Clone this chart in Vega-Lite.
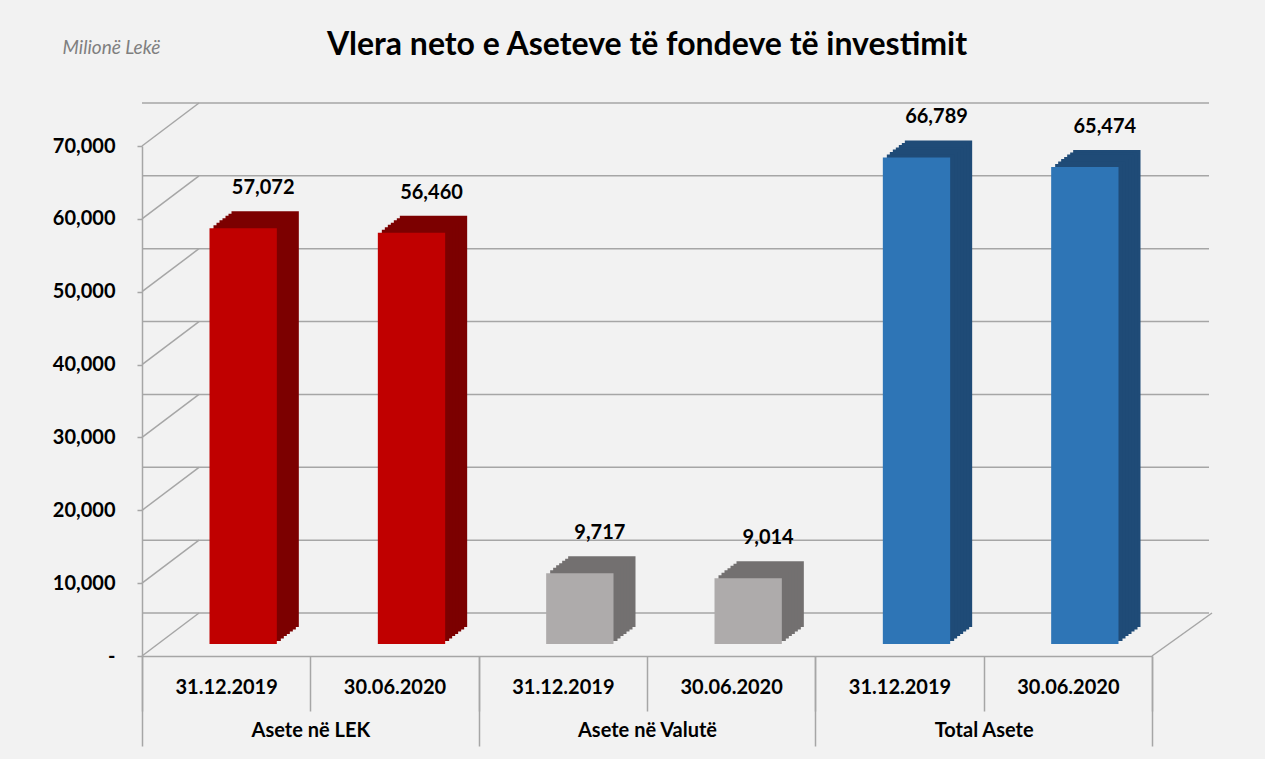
{
  "$schema": "https://vega.github.io/schema/vega-lite/v6.json",
  "width": 1010,
  "height": 510,
  "autosize": {"type": "none"},
  "padding": {"left": 142, "top": 146, "right": 113, "bottom": 103},
  "background": "#f2f2f2",
  "config": {
    "view": {"stroke": null},
    "font": "Lato",
    "axis": {"title": null, "grid": false, "domainColor": "#a6a6a6", "domainWidth": 1.5, "tickColor": "#a6a6a6", "tickWidth": 1.5, "labelFont": "Lato", "labelFontSize": 20, "labelFontWeight": "bold", "labelColor": "#000000"}
  },
  "title": {
    "text": "Vlera neto e Aseteve të fondeve të investimit",
    "font": "Lato",
    "fontSize": 32,
    "fontWeight": "bold",
    "color": "#000000",
    "anchor": "middle",
    "frame": "group",
    "offset": -24
  },
  "datasets": {
    "bars": [
      {"key": "Asete në LEK|31.12.2019", "group": "Asete në LEK", "date": "31.12.2019", "value": 57072},
      {"key": "Asete në LEK|30.06.2020", "group": "Asete në LEK", "date": "30.06.2020", "value": 56460},
      {"key": "Asete në Valutë|31.12.2019", "group": "Asete në Valutë", "date": "31.12.2019", "value": 9717},
      {"key": "Asete në Valutë|30.06.2020", "group": "Asete në Valutë", "date": "30.06.2020", "value": 9014},
      {"key": "Total Asete|31.12.2019", "group": "Total Asete", "date": "31.12.2019", "value": 66789},
      {"key": "Total Asete|30.06.2020", "group": "Total Asete", "date": "30.06.2020", "value": 65474}
    ],
    "grid": [{"v": 0}, {"v": 10000}, {"v": 20000}, {"v": 30000}, {"v": 40000}, {"v": 50000}, {"v": 60000}, {"v": 70000}],
    "groups": [{"group": "Asete në LEK"}, {"group": "Asete në Valutë"}, {"group": "Total Asete"}]
  },
  "layer": [
    {
      "layer": [
        {
          "data": {"name": "grid"},
          "mark": {"type": "rule", "color": "#a6a6a6", "strokeWidth": 1.5, "xOffset": 57, "x2Offset": 60, "yOffset": -43},
          "encoding": {
            "y": {"field": "v", "type": "quantitative", "scale": {"domain": [0, 70000], "nice": false}}
          }
        },
        {
          "data": {"name": "grid"},
          "mark": {"type": "rule", "color": "#a6a6a6", "strokeWidth": 1.5, "x2Offset": 57, "y2Offset": -43},
          "encoding": {
            "x": {"datum": "Asete në LEK|31.12.2019", "bandPosition": 0, "type": "nominal"},
            "x2": {"datum": "Asete në LEK|31.12.2019", "bandPosition": 0},
            "y": {"field": "v", "type": "quantitative"},
            "y2": {"field": "v"}
          }
        },
        {
          "data": {"name": "grid"},
          "transform": [{"filter": "datum.v == 0"}],
          "mark": {"type": "rule", "color": "#a6a6a6", "strokeWidth": 1.5, "x2Offset": 60, "y2Offset": -43},
          "encoding": {
            "x": {"datum": "Total Asete|30.06.2020", "bandPosition": 1, "type": "nominal"},
            "x2": {"datum": "Total Asete|30.06.2020", "bandPosition": 1},
            "y": {"field": "v", "type": "quantitative"},
            "y2": {"field": "v"}
          }
        },
        {
          "data": {"name": "bars"},
          "mark": {"type": "bar", "width": {"band": 0.4}, "xOffset": 39, "yOffset": -29, "y2Offset": -29},
          "encoding": {
            "x": {"field": "key", "type": "nominal", "sort": null},
            "y": {"field": "value", "type": "quantitative"},
            "color": {"field": "group", "type": "nominal", "legend": null, "scale": {"domain": ["Asete në LEK", "Asete në Valutë", "Total Asete"], "range": ["#7c0000", "#737070", "#1f4b77"]}}
          }
        },
        {
          "data": {"name": "bars"},
          "mark": {"type": "bar", "width": {"band": 0.4}, "xOffset": 36, "yOffset": -26.5, "y2Offset": -26.5},
          "encoding": {
            "x": {"field": "key", "type": "nominal", "sort": null},
            "y": {"field": "value", "type": "quantitative"},
            "color": {"field": "group", "type": "nominal", "legend": null, "scale": {"domain": ["Asete në LEK", "Asete në Valutë", "Total Asete"], "range": ["#7c0000", "#737070", "#1f4b77"]}}
          }
        },
        {
          "data": {"name": "bars"},
          "mark": {"type": "bar", "width": {"band": 0.4}, "xOffset": 33, "yOffset": -24.5, "y2Offset": -24.5},
          "encoding": {
            "x": {"field": "key", "type": "nominal", "sort": null},
            "y": {"field": "value", "type": "quantitative"},
            "color": {"field": "group", "type": "nominal", "legend": null, "scale": {"domain": ["Asete në LEK", "Asete në Valutë", "Total Asete"], "range": ["#7c0000", "#737070", "#1f4b77"]}}
          }
        },
        {
          "data": {"name": "bars"},
          "mark": {"type": "bar", "width": {"band": 0.4}, "xOffset": 30, "yOffset": -22, "y2Offset": -22},
          "encoding": {
            "x": {"field": "key", "type": "nominal", "sort": null},
            "y": {"field": "value", "type": "quantitative"},
            "color": {"field": "group", "type": "nominal", "legend": null, "scale": {"domain": ["Asete në LEK", "Asete në Valutë", "Total Asete"], "range": ["#7c0000", "#737070", "#1f4b77"]}}
          }
        },
        {
          "data": {"name": "bars"},
          "mark": {"type": "bar", "width": {"band": 0.4}, "xOffset": 27, "yOffset": -20, "y2Offset": -20},
          "encoding": {
            "x": {"field": "key", "type": "nominal", "sort": null},
            "y": {"field": "value", "type": "quantitative"},
            "color": {"field": "group", "type": "nominal", "legend": null, "scale": {"domain": ["Asete në LEK", "Asete në Valutë", "Total Asete"], "range": ["#7c0000", "#737070", "#1f4b77"]}}
          }
        },
        {
          "data": {"name": "bars"},
          "mark": {"type": "bar", "width": {"band": 0.4}, "xOffset": 24, "yOffset": -17.5, "y2Offset": -17.5},
          "encoding": {
            "x": {"field": "key", "type": "nominal", "sort": null},
            "y": {"field": "value", "type": "quantitative"},
            "color": {"field": "group", "type": "nominal", "legend": null, "scale": {"domain": ["Asete në LEK", "Asete në Valutë", "Total Asete"], "range": ["#7c0000", "#737070", "#1f4b77"]}}
          }
        },
        {
          "data": {"name": "bars"},
          "mark": {"type": "bar", "width": {"band": 0.4}, "xOffset": 21, "yOffset": -15, "y2Offset": -15},
          "encoding": {
            "x": {"field": "key", "type": "nominal", "sort": null},
            "y": {"field": "value", "type": "quantitative"},
            "color": {"field": "group", "type": "nominal", "legend": null, "scale": {"domain": ["Asete në LEK", "Asete në Valutë", "Total Asete"], "range": ["#7c0000", "#737070", "#1f4b77"]}}
          }
        },
        {
          "data": {"name": "bars"},
          "mark": {"type": "bar", "width": {"band": 0.4}, "xOffset": 17, "yOffset": -12, "y2Offset": -12},
          "encoding": {
            "x": {
              "field": "key", "type": "nominal", "sort": null,
              "scale": {"domain": ["Asete në LEK|31.12.2019", "Asete në LEK|30.06.2020", "Asete në Valutë|31.12.2019", "Asete në Valutë|30.06.2020", "Total Asete|31.12.2019", "Total Asete|30.06.2020"], "paddingInner": 0, "paddingOuter": 0},
              "axis": {
                "orient": "bottom", "title": null, "tickBand": "extent", "bandPosition": 0.5, "tickSize": 55,
                "labelExpr": "split(datum.label, '|')[1]", "labelAngle": 0, "labelAlign": "center", "labelBaseline": "middle", "labelPadding": -24
              }
            },
            "y": {
              "field": "value", "type": "quantitative", "scale": {"domain": [0, 70000], "nice": false},
              "axis": {
                "values": [0, 10000, 20000, 30000, 40000, 50000, 60000, 70000],
                "tickSize": 5,
                "labelExpr": "datum.value == 0 ? '-' : format(datum.value, ',')",
                "labelPadding": 22,
                "title": "Milionë Lekë", "titleAngle": 0, "titleAlign": "left", "titleBaseline": "middle", "titleX": -80, "titleY": -99,
                "titleFont": "Lato", "titleFontSize": 19, "titleFontStyle": "italic", "titleFontWeight": "normal", "titleColor": "#7f7f7f"
              }
            },
            "color": {"field": "group", "type": "nominal", "legend": null, "scale": {"domain": ["Asete në LEK", "Asete në Valutë", "Total Asete"], "range": ["#c00000", "#aeabab", "#2e75b6"]}}
          }
        },
        {
          "data": {"name": "bars"},
          "mark": {"type": "text", "font": "Lato", "fontSize": 20, "fontWeight": "bold", "color": "#000000", "baseline": "bottom", "align": "center", "xOffset": 37, "yOffset": -42},
          "encoding": {
            "x": {"field": "key", "type": "nominal", "sort": null},
            "y": {"field": "value", "type": "quantitative"},
            "text": {"field": "value", "type": "quantitative", "format": ","}
          }
        }
      ],
      "resolve": {"scale": {"color": "independent"}}
    },
    {
      "data": {"name": "groups"},
      "mark": {"type": "point", "opacity": 0},
      "encoding": {
        "x": {
          "field": "group", "type": "nominal", "sort": null,
          "scale": {"domain": ["Asete në LEK", "Asete në Valutë", "Total Asete"], "paddingInner": 0, "paddingOuter": 0},
          "axis": {
            "orient": "bottom", "title": null, "tickBand": "extent", "tickSize": 90,
            "domain": false, "labelAngle": 0, "labelBaseline": "middle", "labelPadding": -16
          }
        }
      }
    }
  ],
  "resolve": {"scale": {"x": "independent"}}
}
